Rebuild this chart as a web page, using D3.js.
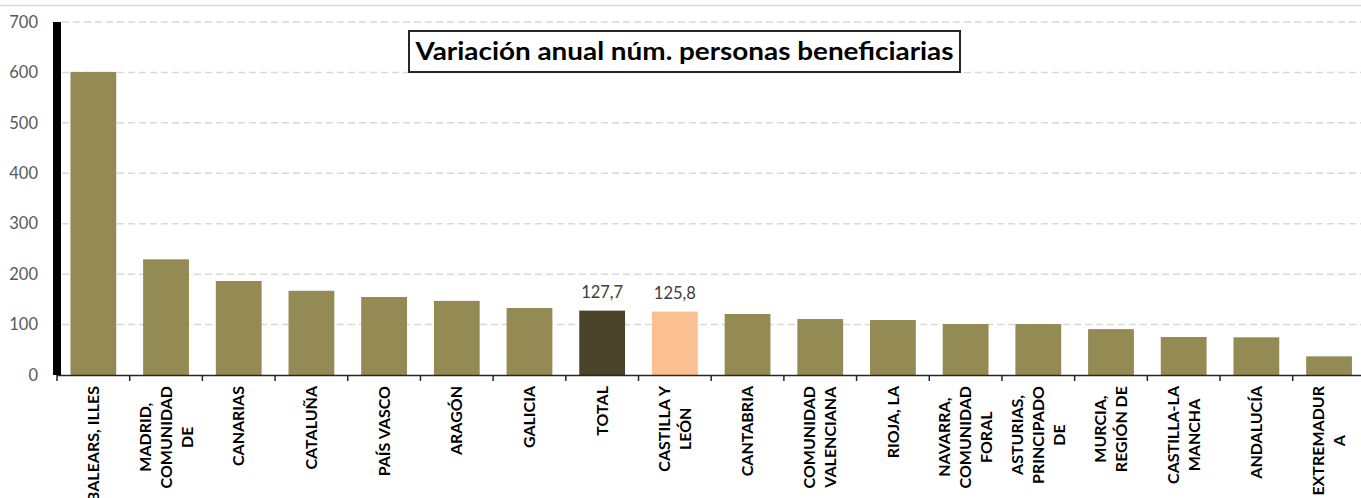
<!DOCTYPE html>
<html><head><meta charset="utf-8">
<script src="https://cdn.jsdelivr.net/npm/d3@7"></script>
<style>
html,body{margin:0;padding:0;background:#fff;overflow:hidden;}
svg{display:block;}
text{font-family:Lato,"Open Sans",sans-serif;}
</style></head>
<body>
<svg id="chart" width="1361" height="498"></svg>
<script>
const categories = ["BALEARS, ILLES","MADRID, COMUNIDAD DE","CANARIAS","CATALUÑA","PAÍS VASCO","ARAGÓN","GALICIA","TOTAL","CASTILLA Y LEÓN","CANTABRIA","COMUNIDAD VALENCIANA","RIOJA, LA","NAVARRA, COMUNIDAD FORAL","ASTURIAS, PRINCIPADO DE","MURCIA, REGIÓN DE","CASTILLA-LA MANCHA","ANDALUCÍA","EXTREMADURA"];
const labelLines = [["BALEARS, ILLES"],["MADRID,","COMUNIDAD","DE"],["CANARIAS"],["CATALUÑA"],["PAÍS VASCO"],["ARAGÓN"],["GALICIA"],["TOTAL"],["CASTILLA Y","LEÓN"],["CANTABRIA"],["COMUNIDAD","VALENCIANA"],["RIOJA, LA"],["NAVARRA,","COMUNIDAD","FORAL"],["ASTURIAS,","PRINCIPADO","DE"],["MURCIA,","REGIÓN DE"],["CASTILLA-LA","MANCHA"],["ANDALUCÍA"],["EXTREMADUR","A"]];
const values = [601, 229.4, 186.4, 167, 154.7, 147, 132.9, 127.7, 125.8, 121, 111, 109, 101, 101, 91, 75.4, 74.7, 37];
const labeled = ["TOTAL","CASTILLA Y LEÓN"];
const yTicks = [0,100,200,300,400,500,600,700];
const title = "Variación anual núm. personas beneficiarias";

const colorOf = c => c === "TOTAL" ? "#4a452a" : (c === "CASTILLA Y LEÓN" ? "#fac090" : "#948a54");

const svg = d3.select("#chart");
const x = d3.scaleBand().domain(categories).range([57, 1365.4]).paddingInner(0.37).paddingOuter(0.185);
const y = d3.scaleLinear().domain([0, 700]).range([375, 22]);

// top border line
svg.append("line").attr("x1",0).attr("x2",1361).attr("y1",5.5).attr("y2",5.5)
  .attr("stroke","#d9d9d9").attr("stroke-width",1.5);

// gridlines
svg.append("g").selectAll("line").data(yTicks.filter(t=>t>0)).join("line")
  .attr("x1",62).attr("x2",1361).attr("y1",d=>y(d)).attr("y2",d=>y(d))
  .attr("stroke","#d9d9d9").attr("stroke-width",1.5).attr("stroke-dasharray","7,4");

// y tick labels
svg.append("g").selectAll("text").data(yTicks).join("text")
  .attr("x",38).attr("y",d=>y(d)).attr("dy","0.35em").attr("text-anchor","end")
  .attr("fill","#595959").attr("font-size",16.5).text(d=>d);

// bars
svg.append("g").selectAll("rect").data(categories).join("rect")
  .attr("x",d=>x(d)).attr("width",x.bandwidth())
  .attr("y",(d,i)=>y(values[i])).attr("height",(d,i)=>y(0)-y(values[i]))
  .attr("fill",d=>colorOf(d));

// data labels
svg.append("g").selectAll("text").data(categories.map((c,i)=>({c,v:values[i]})).filter(d=>labeled.includes(d.c))).join("text")
  .attr("x",d=>x(d.c)+x.bandwidth()/2).attr("y",d=>y(d.v)-13)
  .attr("text-anchor","middle").attr("fill","#404040").attr("font-size",16.5)
  .text(d=>d3.format(".1f")(d.v).replace(".",","));

// x axis line
svg.append("line").attr("x1",57).attr("x2",1361).attr("y1",375.5).attr("y2",375.5)
  .attr("stroke","#262626").attr("stroke-width",1.5);
// x ticks at band boundaries
const step = x.step();
svg.append("g").selectAll("line").data(categories).join("line")
  .attr("x1",d=>x(d)-x.paddingOuter()*step).attr("x2",d=>x(d)-x.paddingOuter()*step)
  .attr("y1",375).attr("y2",381).attr("stroke","#262626").attr("stroke-width",1.5);

// thick y axis
svg.append("rect").attr("x",53).attr("y",y(700)).attr("width",8).attr("height",y(0)-y(700)).attr("fill","#000");

// category labels (rotated, wrapped)
const lh = 21, topY = 386;
const lg = svg.append("g");
categories.forEach((c,i)=>{
  const lines = labelLines[i];
  const cx = x(c)+x.bandwidth()/2;
  const temp = lines.map(l=>lg.append("text").attr("font-size",16).attr("font-weight","bold").attr("fill","#000").text(l));
  const widths = temp.map(t=>t.node().getComputedTextLength());
  const maxW = d3.max(widths);
  const n = lines.length;
  temp.forEach((t,j)=>{
    const lx = cx + (j-(n-1)/2)*lh;
    const ly = topY + maxW/2;
    t.attr("text-anchor","middle").attr("dy","0.35em")
     .attr("transform",`translate(${lx},${ly}) rotate(-90)`);
  });
});

// title box
const tg = svg.append("g");
tg.append("rect").attr("x",409).attr("y",31).attr("width",551).attr("height",41)
  .attr("fill","#fff").attr("stroke","#262626").attr("stroke-width",2);
tg.append("text").attr("x",684.5).attr("y",60).attr("text-anchor","middle")
  .attr("font-size",24).attr("font-weight","bold").attr("fill","#000")
  .attr("textLength",538).attr("lengthAdjust","spacingAndGlyphs").text(title);
</script>
</body></html>
